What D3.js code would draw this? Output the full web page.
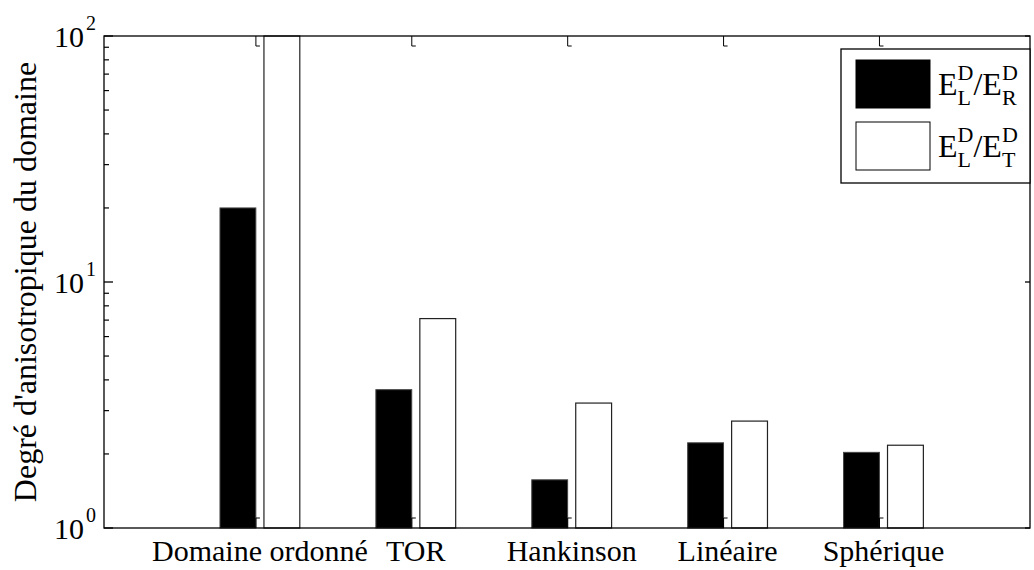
<!DOCTYPE html>
<html><head><meta charset="utf-8">
<script src="https://cdn.jsdelivr.net/npm/d3@7"></script>
<style>body{margin:0;background:#fff}svg{display:block}</style>
</head><body>
<svg id="c" width="1034" height="570"></svg>
<script>
const categories = ["Domaine ordonné","TOR","Hankinson","Linéaire","Sphérique"];
const ratioLR = [20, 3.65, 1.57, 2.22, 2.03];
const ratioLT = [100, 7.1, 3.22, 2.72, 2.17];
const yMajor = [1, 10, 100];
const yExp = ["0","1","2"];
const yMinor = [2,3,4,5,6,7,8,9,20,30,40,50,60,70,80,90];
const yLabel = "Degré d'anisotropique du domaine";
const legendSubs = ["R","T"];

const FONT = "'Liberation Serif', Tinos, 'Times New Roman', 'DejaVu Serif', serif";
const L=104, R=1030, T=36, B=528;
const svg = d3.select("#c").style("font-family", FONT);
const x = d3.scaleLinear().domain([0,5.94]).range([L,R]);
const y = d3.scaleLog().domain([1,100]).range([B,T]);
const bw = 0.23, off = 0.141;

function txt(parent, xx, yy, size, s, anchor){
  return parent.append("text").attr("x",xx).attr("y",yy).attr("text-anchor",anchor||"start")
    .attr("font-family",FONT).attr("font-size",size).attr("fill","#000").text(s);
}

// bars
const g = svg.append("g");
g.selectAll(".b1").data(ratioLR).enter().append("rect")
  .attr("x",(d,i)=>x(i+1-off-bw/2)).attr("width",x(bw)-x(0))
  .attr("y",d=>y(d)).attr("height",d=>y(1)-y(d))
  .attr("fill","#000").attr("stroke","#444").attr("stroke-width",1);
g.selectAll(".b2").data(ratioLT).enter().append("rect")
  .attr("x",(d,i)=>x(i+1+off-bw/2)).attr("width",x(bw)-x(0))
  .attr("y",d=>y(d)).attr("height",d=>y(1)-y(d))
  .attr("fill","#fff").attr("stroke","#222").attr("stroke-width",1.2);

// frame
svg.append("rect").attr("x",L).attr("y",T).attr("width",R-L).attr("height",B-T)
  .attr("fill","none").attr("stroke","#000").attr("stroke-width",1.3);

// x ticks (top & bottom) + labels
categories.forEach((c,i)=>{
  const cx = x(i+1);
  svg.append("path").attr("d",`M${cx-4},${B}V${B-10}H${cx}`).attr("fill","none").attr("stroke","#000").attr("stroke-width",1);
  svg.append("path").attr("d",`M${cx-4},${T}V${T+10}H${cx}`).attr("fill","none").attr("stroke","#000").attr("stroke-width",1);
  txt(svg, cx, 561, 30, c, "middle");
});

// y ticks
yMajor.forEach((v,i)=>{
  svg.append("line").attr("x1",L).attr("x2",L+9).attr("y1",y(v)).attr("y2",y(v)).attr("stroke","#000").attr("stroke-width",1.3);
  svg.append("line").attr("x1",R).attr("x2",R-5).attr("y1",y(v)).attr("y2",y(v)).attr("stroke","#000").attr("stroke-width",1.3);
  txt(svg, 84, y(v)+11, 30, "10", "end");
  txt(svg, 86, y(v)-6, 20, yExp[i], "start");
});
yMinor.forEach(v=>{
  svg.append("line").attr("x1",L).attr("x2",L+5).attr("y1",y(v)).attr("y2",y(v)).attr("stroke","#000").attr("stroke-width",1.2);
});

// y label
svg.append("text").attr("transform",`translate(36,${(T+B)/2}) rotate(-90)`)
  .attr("text-anchor","middle").attr("font-family",FONT).attr("font-size",32).text(yLabel);

// legend
const lg = svg.append("g");
lg.append("rect").attr("x",841).attr("y",49).attr("width",R-841).attr("height",134)
  .attr("fill","#fff").attr("stroke","#000").attr("stroke-width",1.3);
const legFills = ["#000","#fff"];
legendSubs.forEach((sub,i)=>{
  const yy = 60 + i*62;
  lg.append("rect").attr("x",856).attr("y",yy).attr("width",74).attr("height",48)
    .attr("fill",legFills[i]).attr("stroke","#000").attr("stroke-width",1);
  const base = yy+35;
  let cx = 938;
  const e1 = txt(lg, cx, base, 32, "E"); cx += e1.node().getComputedTextLength();
  const s1 = txt(lg, cx, base-15, 22, "D");
  const b1 = txt(lg, cx, base+10, 22, "L");
  cx += Math.max(s1.node().getComputedTextLength(), b1.node().getComputedTextLength());
  const sl = txt(lg, cx, base, 32, "/E"); cx += sl.node().getComputedTextLength();
  txt(lg, cx, base-15, 22, "D");
  txt(lg, cx, base+10, 22, sub);
});
</script>
</body></html>
